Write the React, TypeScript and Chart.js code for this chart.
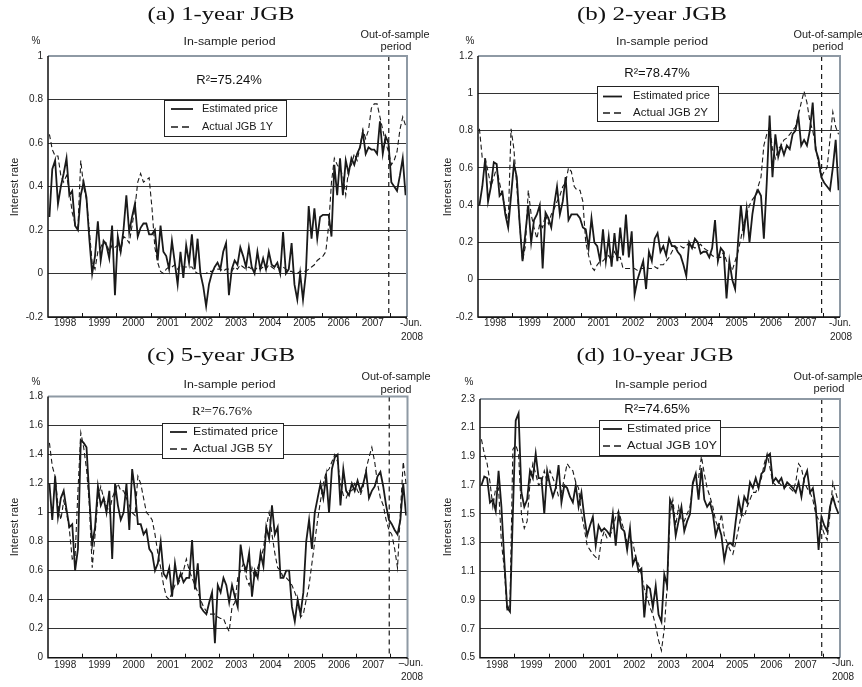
import React, { useEffect, useRef } from "react";
import { Chart, registerables } from "chart.js";
Chart.register(...registerables);

// ---------------- DATA ----------------
const YEAR_LABELS = ["1998", "1999", "2000", "2001", "2002", "2003", "2004", "2005", "2006", "2007"];
const END_LABEL_1 = "-Jun.";
const END_LABEL_2 = "2008";
const OUT_OF_SAMPLE_X = 119.6; // months from Jan 1998

const est1Y = [
  0.26, 0.48, 0.52, 0.32, 0.40, 0.46, 0.53, 0.36, 0.38, 0.22, 0.20, 0.36,
  0.42, 0.35, 0.16, 0.00, 0.08, 0.24, 0.06, 0.15, 0.13, 0.07, 0.22, -0.10,
  0.17, 0.10, 0.20, 0.36, 0.19, 0.26, 0.32, 0.17, 0.21, 0.23, 0.23, 0.18,
  0.18, 0.20, 0.06, 0.22, 0.10, 0.08, 0.02, 0.15, 0.05, -0.05, 0.10, -0.02,
  0.13, 0.05, 0.18, 0.02, 0.16, 0.00, -0.06, -0.15, -0.05, 0.00, 0.03, 0.05,
  0.02, 0.10, 0.14, -0.10, 0.02, 0.06, 0.04, 0.12, 0.08, 0.03, 0.12, 0.03,
  0.00, 0.10, 0.02, 0.07, 0.02, 0.10, 0.04, 0.03, 0.05, 0.00, 0.19, 0.00,
  0.02, 0.14, -0.05, -0.12, 0.00, -0.12, 0.00, 0.31, 0.16, 0.30, 0.16, 0.26,
  0.27, 0.27, 0.27, 0.17, 0.50, 0.36, 0.53, 0.36, 0.52, 0.46, 0.53, 0.50,
  0.55, 0.58, 0.65, 0.55, 0.58, 0.57, 0.57, 0.55, 0.70, 0.55, 0.63, 0.60,
  0.42, 0.40, 0.38, 0.45, 0.53, 0.36,
];
const act1Y = [
  0.64, 0.57, 0.54, 0.54, 0.45, 0.42, 0.45, 0.38, 0.28, 0.23, 0.21, 0.52,
  0.40, 0.34, 0.20, 0.05, 0.02, 0.10, 0.12, 0.15, 0.14, 0.10, 0.13, 0.12,
  0.13, 0.10, 0.17, 0.16, 0.14, 0.22, 0.30, 0.42, 0.46, 0.42, 0.43, 0.44,
  0.30, 0.12, 0.05, 0.01, 0.00, 0.02, 0.03, 0.03, 0.04, 0.02, 0.04, 0.03,
  0.03, 0.03, 0.03, 0.01, 0.00, 0.00, 0.00, 0.00, 0.01, 0.01, 0.02, 0.02,
  0.02, 0.01, 0.02, 0.02, 0.01, 0.03, 0.02, 0.04, 0.03, 0.02, 0.03, 0.02,
  0.01, 0.03, 0.02, 0.03, 0.02, 0.04, 0.03, 0.02, 0.03, 0.02, 0.03, 0.02,
  0.01, 0.01, 0.00, 0.00, 0.01, 0.01, 0.01, 0.02, 0.03, 0.04, 0.06, 0.07,
  0.08, 0.10, 0.22, 0.42, 0.53, 0.50, 0.48, 0.45, 0.36, 0.48, 0.50, 0.55,
  0.52, 0.58, 0.66, 0.62, 0.66, 0.76, 0.78, 0.78, 0.72, 0.66, 0.60, 0.56,
  0.50, 0.52, 0.56, 0.66, 0.72, 0.68,
];
const est2Y = [
  0.40, 0.50, 0.65, 0.42, 0.50, 0.63, 0.62, 0.45, 0.47, 0.35, 0.28, 0.45,
  0.62, 0.55, 0.30, 0.10, 0.25, 0.40, 0.20, 0.32, 0.35, 0.40, 0.06, 0.36,
  0.33, 0.28, 0.40, 0.50, 0.35, 0.42, 0.55, 0.32, 0.35, 0.35, 0.35, 0.33,
  0.28, 0.27, 0.17, 0.33, 0.20, 0.18, 0.10, 0.27, 0.10, 0.23, 0.07, 0.25,
  0.10, 0.28, 0.13, 0.35, 0.12, 0.26, -0.08, 0.00, 0.05, 0.10, -0.05, 0.15,
  0.10, 0.22, 0.25, 0.15, 0.18, 0.13, 0.22, 0.18, 0.18, 0.15, 0.13, 0.08,
  0.02, 0.20, 0.17, 0.22, 0.20, 0.14, 0.15, 0.15, 0.12, 0.17, 0.32, 0.10,
  0.17, 0.15, -0.10, 0.10, 0.00, -0.05, 0.20, 0.40, 0.25, 0.38, 0.20, 0.35,
  0.45, 0.48, 0.45, 0.22, 0.52, 0.88, 0.55, 0.78, 0.66, 0.72, 0.67, 0.72,
  0.70, 0.78, 0.80, 0.88, 0.72, 0.75, 0.72, 0.80, 0.95, 0.70, 0.65, 0.55,
  0.52, 0.50, 0.48, 0.60, 0.75, 0.48,
];
const act2Y = [
  0.81, 0.65, 0.65, 0.58, 0.50, 0.55, 0.60, 0.52, 0.45, 0.38, 0.30, 0.81,
  0.70, 0.50, 0.30, 0.10, 0.18, 0.48, 0.35, 0.28, 0.22, 0.30, 0.28, 0.35,
  0.30, 0.35, 0.38, 0.42, 0.45, 0.50, 0.52, 0.60, 0.58, 0.50, 0.48, 0.48,
  0.42, 0.20, 0.13, 0.07, 0.05, 0.08, 0.10, 0.10, 0.12, 0.13, 0.10, 0.15,
  0.12, 0.12, 0.06, 0.06, 0.06, 0.06, 0.06, 0.05, 0.06, 0.06, 0.07, 0.06,
  0.06, 0.07, 0.06, 0.08, 0.08, 0.10, 0.12, 0.15, 0.18, 0.17, 0.18, 0.17,
  0.18, 0.20, 0.18, 0.17, 0.18, 0.19, 0.17, 0.16, 0.15, 0.13, 0.12, 0.12,
  0.12, 0.15, 0.10, 0.08, 0.05, 0.10, 0.15, 0.22, 0.30, 0.35, 0.40, 0.43,
  0.45, 0.50, 0.55, 0.72, 0.78, 0.82, 0.70, 0.65, 0.70, 0.72, 0.75, 0.76,
  0.78, 0.80, 0.82, 0.88, 0.95, 1.01, 0.95, 0.85, 0.80, 0.72, 0.62, 0.55,
  0.58, 0.60, 0.75, 0.90, 0.82, 0.78,
];
const est5Y = [
  1.20, 0.95, 1.25, 0.97, 1.10, 1.15, 1.02, 0.90, 0.92, 0.60, 0.75, 1.50,
  1.48, 1.45, 1.10, 0.78, 0.90, 1.18, 1.05, 1.10, 1.00, 1.15, 0.68, 1.20,
  1.05, 0.95, 1.00, 1.20, 0.88, 1.30, 1.15, 0.92, 0.92, 0.85, 0.88, 0.75,
  0.72, 0.60, 0.65, 0.80, 0.58, 0.55, 0.62, 0.42, 0.65, 0.52, 0.58, 0.52,
  0.55, 0.55, 0.81, 0.47, 0.65, 0.35, 0.32, 0.30, 0.38, 0.45, 0.10, 0.50,
  0.45, 0.55, 0.50, 0.38, 0.50, 0.42, 0.35, 0.78, 0.65, 0.60, 0.72, 0.42,
  0.60, 0.55, 0.72, 0.63, 0.90, 0.82, 1.05, 0.85, 0.90, 0.55, 0.55, 0.60,
  0.60, 0.35, 0.25, 0.40, 0.30, 0.45, 0.80, 0.95, 0.75, 1.00, 1.10, 1.20,
  1.10, 1.25, 1.00, 1.30, 1.38, 1.40, 1.05, 1.30, 1.15, 1.12, 1.20, 1.15,
  1.22, 1.15, 1.20, 1.28, 1.10, 1.15, 1.18, 1.25, 1.28, 1.18, 1.05, 0.95,
  0.92, 0.88, 0.85, 0.95, 1.20, 0.98,
];
const act5Y = [
  1.48, 1.32, 1.25, 1.05, 0.95, 1.08, 1.00, 0.88, 0.68, 0.70, 1.15, 1.55,
  1.45, 1.30, 1.05, 0.62, 0.85, 1.10, 1.18, 1.10, 1.05, 1.00, 1.10, 1.15,
  1.20, 1.15, 1.15, 1.10, 1.05, 1.00, 0.98, 1.25, 1.20, 1.10, 1.00, 0.98,
  0.95, 0.85, 0.72, 0.62, 0.50, 0.42, 0.40, 0.45, 0.50, 0.50, 0.55, 0.60,
  0.68, 0.60, 0.55, 0.50, 0.45, 0.40, 0.35, 0.32, 0.30, 0.30, 0.30, 0.28,
  0.27, 0.27, 0.22, 0.18, 0.35, 0.38, 0.55, 0.60, 0.65, 0.55, 0.50, 0.62,
  0.55, 0.62, 0.68, 0.75, 0.90, 1.00, 0.85, 0.72, 0.62, 0.60, 0.55, 0.55,
  0.53, 0.50, 0.45, 0.40, 0.28, 0.30, 0.40, 0.50, 0.65, 0.80, 0.95, 1.08,
  1.20, 1.28, 1.30, 1.35, 1.40, 1.35, 1.20, 1.12, 1.10, 1.15, 1.15, 1.20,
  1.15, 1.12, 1.18, 1.30, 1.38, 1.45, 1.35, 1.20, 1.10, 1.05, 0.95, 0.88,
  0.85, 0.75, 0.62, 1.00, 1.35, 1.20,
];
const est10Y = [
  1.70, 1.76, 1.75, 1.58, 1.60, 1.52, 1.80, 1.55, 1.18, 0.85, 0.82, 1.50,
  2.15, 2.20, 1.65, 1.55, 1.60, 1.80, 1.75, 1.92, 1.75, 1.75, 1.50, 1.80,
  1.70, 1.62, 1.68, 1.84, 1.58, 1.70, 1.68, 1.62, 1.58, 1.70, 1.55, 1.65,
  1.48, 1.35, 1.42, 1.48, 1.28, 1.42, 1.38, 1.40, 1.38, 1.35, 1.50, 1.28,
  1.50, 1.40, 1.38, 1.25, 1.40, 1.15, 1.20, 1.10, 1.12, 0.78, 1.00, 0.98,
  0.85, 1.00, 0.80, 0.75, 1.08, 1.00, 1.60, 1.55, 1.35, 1.45, 1.55, 1.38,
  1.45, 1.50, 1.72, 1.78, 1.60, 1.82, 1.60, 1.55, 1.58, 1.50, 1.35, 1.42,
  1.35, 1.18, 1.28, 1.30, 1.28, 1.45, 1.60, 1.50, 1.62, 1.58, 1.72, 1.68,
  1.75, 1.68, 1.78, 1.80, 1.90, 1.92, 1.72, 1.75, 1.72, 1.75, 1.68, 1.72,
  1.70, 1.68, 1.65, 1.72, 1.62, 1.75, 1.80, 1.65, 1.68, 1.55, 1.25, 1.48,
  1.42, 1.38, 1.55, 1.62, 1.55, 1.50,
];
const act10Y = [
  2.02, 1.92, 1.85, 1.72, 1.55, 1.68, 1.68, 1.30, 1.12, 0.82, 0.88, 1.95,
  1.98, 1.92, 1.50, 1.40, 1.45, 1.72, 1.85, 1.78, 1.70, 1.72, 1.80, 1.72,
  1.80, 1.75, 1.70, 1.62, 1.65, 1.75, 1.85, 1.82, 1.80, 1.72, 1.68, 1.50,
  1.40, 1.28, 1.25, 1.22, 1.20, 1.18, 1.32, 1.38, 1.33, 1.35, 1.40, 1.48,
  1.52, 1.45, 1.38, 1.30, 1.32, 1.30, 1.20, 1.15, 1.08, 0.98, 0.92, 0.85,
  0.80, 0.72, 0.62, 0.55, 0.70, 1.00, 1.50, 1.60, 1.42, 1.55, 1.45, 1.45,
  1.50, 1.55, 1.70, 1.78, 1.75, 1.90, 1.78, 1.68, 1.62, 1.55, 1.45, 1.40,
  1.50, 1.35, 1.30, 1.25, 1.22, 1.30, 1.40, 1.50, 1.48, 1.55, 1.60, 1.65,
  1.65, 1.70, 1.75, 1.85, 1.92, 1.82, 1.72, 1.70, 1.72, 1.70, 1.68, 1.70,
  1.68, 1.66, 1.72, 1.85, 1.82, 1.72, 1.68, 1.65, 1.60, 1.50, 1.46, 1.42,
  1.36, 1.32, 1.50, 1.72, 1.65, 1.58,
];

const ticks1Y = [-0.2, 0, 0.2, 0.4, 0.6, 0.8, 1];
const ticks2Y = [-0.2, 0, 0.2, 0.4, 0.6, 0.8, 1, 1.2];
const ticks5Y = [0, 0.2, 0.4, 0.6, 0.8, 1, 1.2, 1.4, 1.6, 1.8];
const ticks10Y = [0.5, 0.7, 0.9, 1.1, 1.3, 1.5, 1.7, 1.9, 2.1, 2.3];

// ---------------- STYLE / LAYOUT ----------------
const SANS = '"Liberation Sans", Arial, Helvetica, sans-serif';
const SERIF = '"Liberation Serif", "Times New Roman", serif';
const INK = "#1a1a1a";

type Panel = {
  key: string;
  title: string;
  titleW: number;
  canvas: { left: number; top: number; width: number; height: number };
  pad: { top: number; right: number; bottom: number };
  yAxisW: number;
  ticks: number[];
  est: number[];
  act: number[];
  actLabel: string;
  r2: string;
  r2Serif: boolean;
  endDash: string;
  // page coordinates for annotations
  pos: {
    title: [number, number];
    pct: [number, number];
    ylab: [number, number];
    inS: [number, number];
    out1: [number, number];
    out2: [number, number];
    r2: [number, number];
    box: [number, number, number, number];
    l1y: number;
    l2y: number;
    sx: [number, number];
    tx: number;
    estW: number;
    actW: number;
    yearY: number;
    end1: [number, number];
    end2: [number, number];
  };
};

const panels: Panel[] = [
  {
    key: "a", title: "(a) 1-year JGB", titleW: 147,
    canvas: { left: 0, top: 0, width: 431, height: 345 },
    pad: { top: 56, right: 24, bottom: 28 }, yAxisW: 48,
    ticks: ticks1Y, est: est1Y, act: act1Y, actLabel: "Actual JGB 1Y",
    r2: "R\u00B2=75.24%", r2Serif: false, endDash: END_LABEL_1,
    pos: {
      title: [221, 15], pct: [36, 41], ylab: [15, 187], inS: [229.5, 42],
      out1: [395, 35], out2: [396, 47], r2: [229, 80],
      box: [164, 100, 286, 136], l1y: 109, l2y: 127, sx: [171, 193], tx: 202,
      estW: 76, actW: 71, yearY: 323, end1: [411, 323], end2: [412, 337],
    },
  },
  {
    key: "b", title: "(b) 2-year JGB", titleW: 150,
    canvas: { left: 431, top: 0, width: 431, height: 345 },
    pad: { top: 56, right: 22, bottom: 28 }, yAxisW: 47,
    ticks: ticks2Y, est: est2Y, act: act2Y, actLabel: "Actual JGB 2Y",
    r2: "R\u00B2=78.47%", r2Serif: false, endDash: END_LABEL_1,
    pos: {
      title: [652, 15], pct: [470, 41], ylab: [448, 187], inS: [662, 42],
      out1: [828, 35], out2: [828, 47], r2: [657, 73],
      box: [597, 86, 718, 121], l1y: 96.5, l2y: 113, sx: [603, 622], tx: 633,
      estW: 77, actW: 75, yearY: 323, end1: [840, 323], end2: [841, 337],
    },
  },
  {
    key: "c", title: "(c) 5-year JGB", titleW: 148,
    canvas: { left: 0, top: 345, width: 431, height: 342 },
    pad: { top: 51.5, right: 23.5, bottom: 29.3 }, yAxisW: 48,
    ticks: ticks5Y, est: est5Y, act: act5Y, actLabel: "Actual JGB 5Y",
    r2: "R\u00B2=76.76%", r2Serif: true, endDash: "\u2013Jun.",
    pos: {
      title: [221, 356], pct: [36, 382], ylab: [15, 527], inS: [229.5, 385],
      out1: [396, 377], out2: [396, 390], r2: [222, 412],
      box: [162, 423, 283, 458], l1y: 432, l2y: 449, sx: [170, 187], tx: 193,
      estW: 85, actW: 80, yearY: 665, end1: [411, 663], end2: [412, 677],
    },
  },
  {
    key: "d", title: "(d) 10-year JGB", titleW: 157,
    canvas: { left: 431, top: 345, width: 431, height: 342 },
    pad: { top: 54, right: 22, bottom: 29.3 }, yAxisW: 49,
    ticks: ticks10Y, est: est10Y, act: act10Y, actLabel: "Actual JGB 10Y",
    r2: "R\u00B2=74.65%", r2Serif: false, endDash: END_LABEL_1,
    pos: {
      title: [655, 356], pct: [469, 382], ylab: [448, 527], inS: [661, 385],
      out1: [828, 377], out2: [829, 389], r2: [657, 409],
      box: [599, 420, 720, 455], l1y: 429, l2y: 446, sx: [603, 622], tx: 627,
      estW: 84, actW: 90, yearY: 665, end1: [843, 663], end2: [843, 677],
    },
  },
];

function drawText(
  ctx: CanvasRenderingContext2D, s: string, x: number, y: number, size: number, family: string,
  opts: { align?: CanvasTextAlign; width?: number; color?: string; rotate?: number } = {}
) {
  const { align = "center", width, color = INK, rotate = 0 } = opts;
  ctx.save();
  ctx.font = `${size}px ${family}`;
  ctx.fillStyle = color;
  ctx.textBaseline = "middle";
  ctx.textAlign = align;
  const w = ctx.measureText(s).width;
  const sx = width ? width / w : 1;
  ctx.translate(x, y);
  if (rotate) ctx.rotate(rotate);
  ctx.scale(sx, 1);
  ctx.fillText(s, 0, 0);
  ctx.restore();
}

function makeDecor(p: Panel) {
  return {
    id: "decor_" + p.key,
    afterDatasetsDraw(chart: any) {
      const { ctx, chartArea: ca, scales } = chart;
      const xs = scales.x;
      const ox = p.canvas.left;
      const oy = p.canvas.top;
      const P = p.pos;
      ctx.save();

      // out-of-sample divider
      const xv = xs.getPixelForValue(OUT_OF_SAMPLE_X);
      ctx.strokeStyle = INK;
      ctx.lineWidth = 1.2;
      ctx.setLineDash([5, 4]);
      ctx.beginPath();
      ctx.moveTo(xv, ca.top);
      ctx.lineTo(xv, ca.bottom);
      ctx.stroke();
      ctx.setLineDash([]);

      // frame: top/right grey, left/bottom black
      ctx.strokeStyle = "#8e99a4";
      ctx.lineWidth = 2;
      ctx.beginPath();
      ctx.moveTo(ca.left, ca.top);
      ctx.lineTo(ca.right, ca.top);
      ctx.lineTo(ca.right, ca.bottom);
      ctx.stroke();
      ctx.strokeStyle = "#111";
      ctx.lineWidth = 1.5;
      ctx.beginPath();
      ctx.moveTo(ca.left, ca.top);
      ctx.lineTo(ca.left, ca.bottom);
      ctx.lineTo(ca.right, ca.bottom);
      ctx.stroke();

      // year tick marks (inside) and labels
      ctx.lineWidth = 1;
      for (let k = 1; k <= YEAR_LABELS.length; k++) {
        const px = Math.round(xs.getPixelForValue(12 * k)) + 0.5;
        ctx.beginPath();
        ctx.moveTo(px, ca.bottom);
        ctx.lineTo(px, ca.bottom - 4);
        ctx.stroke();
      }
      YEAR_LABELS.forEach((lab, k) => {
        drawText(ctx, lab, xs.getPixelForValue(12 * k + 6), P.yearY - oy, 10, SANS, { color: "#222" });
      });
      drawText(ctx, p.endDash, P.end1[0] - ox, P.end1[1] - oy, 10, SANS, { color: "#222" });
      drawText(ctx, END_LABEL_2, P.end2[0] - ox, P.end2[1] - oy, 10, SANS, { color: "#222" });

      // legend box
      const [bx1, by1, bx2, by2] = P.box;
      ctx.fillStyle = "#fff";
      ctx.fillRect(bx1 - ox, by1 - oy, bx2 - bx1, by2 - by1);
      ctx.strokeStyle = "#222";
      ctx.lineWidth = 1;
      ctx.strokeRect(bx1 - ox + 0.5, by1 - oy + 0.5, bx2 - bx1, by2 - by1);
      ctx.strokeStyle = INK;
      ctx.lineWidth = 1.8;
      ctx.beginPath();
      ctx.moveTo(P.sx[0] - ox, P.l1y - oy);
      ctx.lineTo(P.sx[1] - ox, P.l1y - oy);
      ctx.stroke();
      ctx.lineWidth = 1.3;
      ctx.setLineDash([7, 4]);
      ctx.beginPath();
      ctx.moveTo(P.sx[0] - ox, P.l2y - oy);
      ctx.lineTo(P.sx[1] - ox, P.l2y - oy);
      ctx.stroke();
      ctx.setLineDash([]);
      drawText(ctx, chart.data.datasets[0].label, P.tx - ox, P.l1y - oy, 10.5, SANS, { align: "left", width: P.estW });
      drawText(ctx, chart.data.datasets[1].label, P.tx - ox, P.l2y - oy, 10.5, SANS, { align: "left", width: P.actW });

      // annotations
      drawText(ctx, p.title, P.title[0] - ox, P.title[1] - oy, 18, SERIF, { width: p.titleW, color: "#111" });
      drawText(ctx, "%", P.pct[0] - ox, P.pct[1] - oy, 10, SANS, { color: "#222" });
      drawText(ctx, "Interest rate", P.ylab[0] - ox, P.ylab[1] - oy, 11, SANS, { rotate: -Math.PI / 2, color: "#222" });
      drawText(ctx, "In-sample period", P.inS[0] - ox, P.inS[1] - oy, 10.5, SANS, { width: 92, color: "#222" });
      drawText(ctx, "Out-of-sample", P.out1[0] - ox, P.out1[1] - oy, 10.5, SANS, { width: 69, color: "#222" });
      drawText(ctx, "period", P.out2[0] - ox, P.out2[1] - oy, 10.5, SANS, { width: 31, color: "#222" });
      drawText(ctx, p.r2, P.r2[0] - ox, P.r2[1] - oy, 13, p.r2Serif ? SERIF : SANS, { color: "#111" });

      ctx.restore();
    },
  };
}

function fmt(v: number) {
  return String(Math.round(v * 10) / 10);
}

function PanelChart({ p }: { p: Panel }) {
  const ref = useRef<HTMLCanvasElement | null>(null);
  useEffect(() => {
    if (!ref.current) return;
    const yMin = p.ticks[0];
    const yMax = p.ticks[p.ticks.length - 1];
    const chart = new Chart(ref.current, {
      type: "line",
      data: {
        datasets: [
          {
            label: "Estimated price",
            data: p.est.map((v, i) => ({ x: i + 0.5, y: v })),
            borderColor: INK,
            borderWidth: 1.8,
            pointRadius: 0,
            tension: 0,
            fill: false,
          },
          {
            label: p.actLabel,
            data: p.act.map((v, i) => ({ x: i + 0.5, y: v })),
            borderColor: INK,
            borderWidth: 1.1,
            borderDash: [5, 3],
            pointRadius: 0,
            tension: 0,
            fill: false,
          },
        ],
      },
      options: {
        animation: false,
        responsive: false,
        maintainAspectRatio: false,
        layout: { padding: { left: 0, top: p.pad.top, right: p.pad.right, bottom: p.pad.bottom } },
        plugins: { legend: { display: false }, tooltip: { enabled: false }, title: { display: false } },
        scales: {
          x: { type: "linear", min: 0, max: 126, display: false },
          y: {
            type: "linear",
            min: yMin,
            max: yMax,
            afterFit: (s: any) => {
              s.width = p.yAxisW;
            },
            afterBuildTicks: (s: any) => {
              s.ticks = p.ticks.map((v) => ({ value: v }));
            },
            ticks: {
              font: { family: SANS, size: 10 },
              color: "#222",
              padding: 5,
              callback: (v: any) => fmt(Number(v)),
            },
            grid: {
              color: (c: any) =>
                c.tick && Math.abs(c.tick.value - yMax) < 1e-9 ? "rgba(0,0,0,0)" : "#333",
              lineWidth: 1,
              drawTicks: false,
            },
            border: { display: false },
          },
        },
      } as any,
      plugins: [makeDecor(p)],
    });
    return () => chart.destroy();
  }, [p]);
  return (
    <canvas
      ref={ref}
      width={p.canvas.width}
      height={p.canvas.height}
      style={{
        position: "absolute",
        left: p.canvas.left,
        top: p.canvas.top,
        width: p.canvas.width,
        height: p.canvas.height,
      }}
    />
  );
}

export default function App() {
  return (
    <div style={{ position: "absolute", left: 0, top: 0, width: 862, height: 687, background: "#fff", overflow: "hidden" }}>
      {panels.map((p) => (
        <PanelChart key={p.key} p={p} />
      ))}
    </div>
  );
}
